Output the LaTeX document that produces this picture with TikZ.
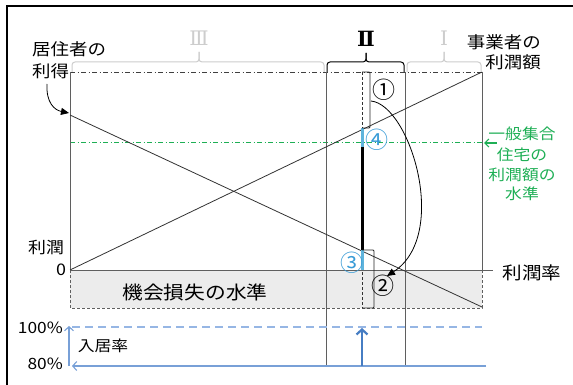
\documentclass[tikz,border=0pt]{standalone}
\usepackage{fontspec}
\setmainfont{Noto Sans CJK JP}
\newfontfamily\romanf{DejaVu Serif}
\usetikzlibrary{arrows.meta}
\definecolor{axisgray}{RGB}{95,95,95}
\definecolor{romgray}{RGB}{205,205,205}
\definecolor{boxfill}{RGB}{236,236,236}
\definecolor{numblue}{RGB}{55,155,215}
\definecolor{segblue}{RGB}{95,180,220}
\definecolor{ltblue}{RGB}{150,182,228}
\definecolor{rateblue}{RGB}{120,160,215}
\definecolor{midblue}{RGB}{70,125,195}
\definecolor{ggreen}{RGB}{30,175,85}
\newcommand\hs[1]{\scalebox{1.12}[1]{#1}}
\tikzset{
  lbl/.style={inner sep=0pt, font=\fontsize{16.5}{18}\selectfont},
  circnum/.style={inner sep=0pt, font=\fontsize{23}{24}\selectfont},
  axisline/.style={draw=axisgray, line width=0.9pt},
  chartline/.style={draw=black!80, line width=0.8pt},
  dashdotline/.style={line width=0.8pt, dash pattern=on 5pt off 2.5pt on 1pt off 2.5pt},
  bracestyle/.style={line width=1pt, rounded corners=3pt},
  bracket/.style={draw=black!85, line width=0.8pt},
  greentxt/.style={inner sep=0pt, text=ggreen, font=\fontsize{15}{20}\selectfont},
}
\begin{document}
\begin{tikzpicture}[x=1pt,y=-1pt]
\useasboundingbox (0,0) rectangle (573,385);
\begin{scope}
\clip (0,0) rectangle (573,385);
\fill[white] (0,0) rectangle (573,385);
% outer frame
\draw[line width=1.8pt] (7,395) -- (7,6) -- (590,6);

% key coordinates
\coordinate (TL) at (70,72);
\coordinate (TR) at (482,72);
\coordinate (O) at (70,270);
\coordinate (R0) at (482,270);
\coordinate (AxEnd) at (493,270);

% opportunity-loss box
\draw[draw=axisgray, fill=boxfill, line width=0.8pt, dash pattern=on 3pt off 2pt] (70,270) rectangle (482,308);
\node[lbl, font=\fontsize{18.5}{20}\selectfont] (loss) at (195,292) {\hs{機会損失の水準}};

% top dash-dot line
\draw[dashdotline, draw=black!75] (TL) -- (TR);
% green level line
\draw[dashdotline, draw=ggreen, line width=1pt] (70,143) -- (482,143);

% axes
\draw[axisline] (TL) -- (O) -- (AxEnd);
\draw[axisline] (TR) -- (R0);

% region II verticals
\draw[axisline] (326,72) -- (326,367);
\draw[axisline] (405,72) -- (405,367);
% dashed centre line
\draw[draw=black!80, line width=0.8pt, dash pattern=on 3pt off 2pt] (362,72) -- (362,308);

% profit lines
\draw[chartline] (70,115) -- (482,307);
\draw[chartline] (O) -- (TR);

% braces
\draw[bracestyle, draw=romgray] (72,72) -- (72,62) -- (199,62) -- (199,52);
\draw[bracestyle, draw=romgray] (324,72) -- (324,62) -- (199,62) -- (199,52);
\draw[bracestyle, draw=black] (327,72) -- (327,62) -- (366,62) -- (366,53);
\draw[bracestyle, draw=black] (404,72) -- (404,62) -- (366,62) -- (366,53);
\draw[bracestyle, draw=romgray] (407,72) -- (407,62) -- (444,62) -- (444,52);
\draw[bracestyle, draw=romgray] (481,72) -- (481,62) -- (444,62) -- (444,52);
\node[inner sep=0pt, text=romgray, font=\romanf\fontsize{20}{22}\selectfont] (r3) at (199,38) {Ⅲ};
\node[inner sep=0pt, text=black, font=\romanf\bfseries\fontsize{21}{22}\selectfont] (r2) at (366,39) {Ⅱ};
\node[inner sep=0pt, text=romgray, font=\romanf\fontsize{20}{22}\selectfont] (r1) at (444,38) {Ⅰ};

% segments on centre line
\draw[segblue, line width=3pt] (362,128) -- (362,147);
\draw[black, line width=3pt] (362,147) -- (362,250);
\draw[segblue, line width=3pt] (362,250) -- (362,270);

% brackets
\draw[bracket, rounded corners=1pt] (362,72) -- (370,72) -- (370,128) -- (362,128);
\draw[bracket, rounded corners=1pt] (362,250) -- (374,250) -- (374,308) -- (362,308);

% circled numbers
\node[circnum] (n1) at (384,90) {①};
\node[circnum, text=numblue] (n4) at (377,140) {④};
\node[circnum, text=numblue] (n3) at (352,263) {③};
\node[circnum] (n2) at (383,286) {②};

% curved arrow 1 -> 2
\draw[black, line width=0.8pt, -{Triangle[length=8pt,width=7pt]}] (371,101) .. controls (410,105) and (450,235) .. (387,276);

% left labels
\node[lbl, anchor=west] (res1) at (32,49) {\hs{居住者の}};
\node[lbl, anchor=west] (res2) at (32,71) {\hs{利得}};
\draw[black, line width=0.8pt, -{Triangle[length=8pt,width=7pt]}] (47,84) .. controls (46,102) and (54,110) .. (69,113);
\node[lbl, font=\fontsize{16}{18}\selectfont] (rj) at (46,247) {\hs{利潤}};
\node[lbl, font=\fontsize{16}{18}\selectfont] (zero) at (61,270) {\hs{0}};

% right labels
\node[lbl, anchor=east] (biz1) at (541,42) {\hs{事業者の}};
\node[lbl, anchor=east] (biz2) at (541,62) {\hs{利潤額}};
\node[lbl, font=\fontsize{17.5}{19}\selectfont] (rate) at (532,273) {\hs{利潤率}};
\draw[ggreen, line width=1.2pt, {Straight Barb[length=4pt,width=8pt]}-] (484,143) -- (497,143);
\node[greentxt] (gl1) at (522,134) {\hs{一般集合}};
\node[greentxt] (gl2) at (522,155) {\hs{住宅の}};
\node[greentxt] (gl3) at (522,175) {\hs{利潤額の}};
\node[greentxt] (gl4) at (522,194) {\hs{水準}};

% occupancy
\draw[ltblue, line width=1.3pt, dash pattern=on 8pt off 5pt] (72,327) -- (482,327);
\coordinate (occR) at (486,366);
\coordinate (occL) at (72,366);
\draw[rateblue, line width=1.1pt, -{Straight Barb[length=4pt,width=9pt]}] (occR) -- (occL);
\draw[rateblue, line width=1.1pt, -{Straight Barb[length=4pt,width=9pt]}] (69,366) -- (69,326);
\draw[midblue, line width=2.2pt, -{Straight Barb[length=5pt,width=11pt]}] (362,366) -- (362,328);
\node[lbl, font=\fontsize{15.5}{17}\selectfont, anchor=east] (p100) at (63,328) {\hs{100\%}};
\node[lbl, font=\fontsize{15.5}{17}\selectfont, anchor=east] (p80) at (63,364) {\hs{80\%}};
\node[lbl, font=\fontsize{15}{17}\selectfont] (occ) at (103,346) {\hs{入居率}};
\end{scope}
\end{tikzpicture}
\end{document}
